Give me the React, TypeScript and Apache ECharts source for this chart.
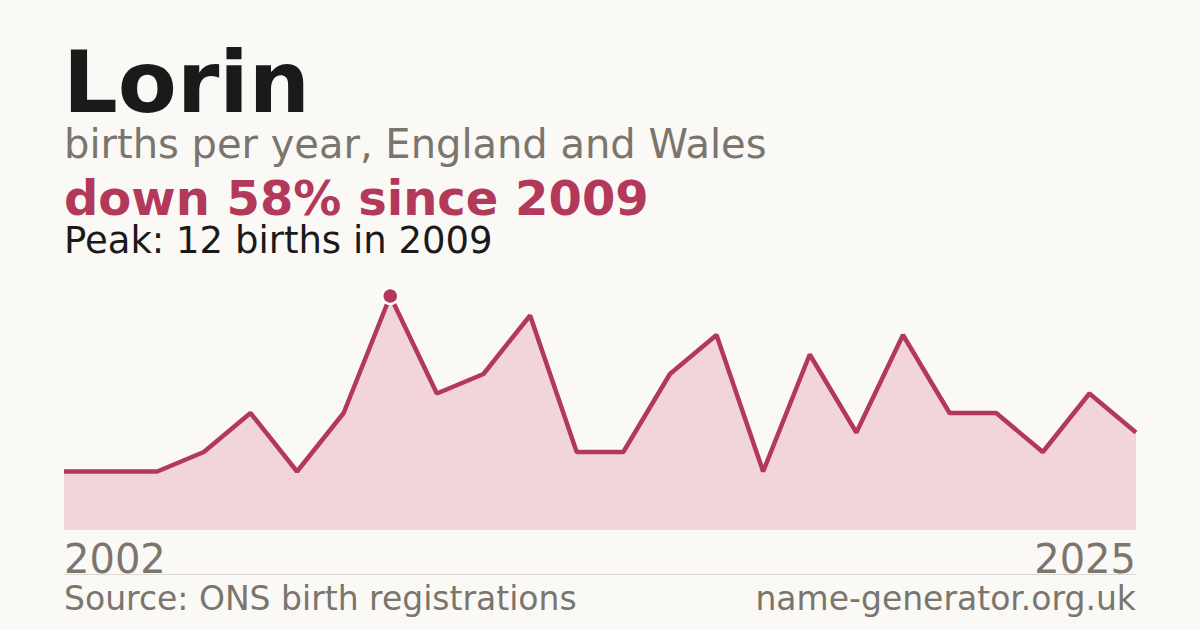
import React, { useEffect, useRef } from 'react';
import * as echarts from 'echarts';

const years = [
  '2002', '2003', '2004', '2005', '2006', '2007', '2008', '2009',
  '2010', '2011', '2012', '2013', '2014', '2015', '2016', '2017',
  '2018', '2019', '2020', '2021', '2022', '2023', '2024', '2025',
];
const births = [3, 3, 3, 4, 6, 3, 6, 12, 7, 8, 11, 4, 4, 8, 10, 3, 9, 5, 10, 6, 6, 4, 7, 5];
const peakYear = '2009';
const peakValue = 12;

const FONT = '"DejaVu Sans", sans-serif';
const CRIMSON = '#b3395a';
const GREY = '#7a756d';

const App: React.FC = () => {
  const chartRef = useRef<HTMLDivElement>(null);

  useEffect(() => {
    if (!chartRef.current) return;
    const chart = echarts.init(chartRef.current, null, { renderer: 'svg' });

    const option = {
      animation: false,
      backgroundColor: '#faf9f5',
      textStyle: { fontFamily: FONT },
      grid: { left: 64, right: 64, top: 296, bottom: 100 },
      xAxis: {
        type: 'category',
        data: years,
        boundaryGap: false,
        axisLine: { show: false },
        axisTick: { show: false },
        splitLine: { show: false },
        axisLabel: {
          interval: (i: number) => i === 0 || i === years.length - 1,
          alignMinLabel: 'left',
          alignMaxLabel: 'right',
          color: GREY,
          fontSize: 40,
          fontFamily: FONT,
          verticalAlign: 'middle',
          lineHeight: 36,
          margin: 29,
        },
      },
      yAxis: { type: 'value', min: 0, max: 12, show: false },
      series: [
        {
          type: 'line',
          data: births,
          showSymbol: false,
          lineStyle: { color: CRIMSON, width: 4.5 },
          areaStyle: { color: '#f1d5da', opacity: 1 },
          z: 2,
        },
        {
          type: 'scatter',
          data: [[peakYear, peakValue]],
          symbol: 'circle',
          symbolSize: 16,
          itemStyle: { color: CRIMSON, opacity: 1, borderColor: '#ffffff', borderWidth: 2.5 },
          z: 3,
        },
      ],
      graphic: [
        {
          type: 'text', silent: true,
          style: { text: 'Lorin', x: 63, y: 82, fontSize: 86, lineHeight: 76, fontWeight: 'bold', fontFamily: FONT, fill: '#1a1a1a', verticalAlign: 'middle' },
        },
        {
          type: 'text', silent: true,
          style: { text: 'births per year, England and Wales', x: 64, y: 144, fontSize: 40, lineHeight: 36, fontFamily: FONT, fill: GREY, verticalAlign: 'middle' },
        },
        {
          type: 'text', silent: true,
          style: { text: 'down 58% since 2009', x: 64, y: 197.5, fontSize: 48, lineHeight: 42, fontWeight: 'bold', fontFamily: FONT, fill: CRIMSON, verticalAlign: 'middle' },
        },
        {
          type: 'text', silent: true,
          style: { text: 'Peak: 12 births in 2009', x: 64, y: 240.5, fontSize: 37, lineHeight: 33, fontFamily: FONT, fill: '#1a1a1a', verticalAlign: 'middle' },
        },
        {
          type: 'line', silent: true,
          shape: { x1: 64, y1: 574.5, x2: 1136, y2: 574.5 },
          style: { stroke: '#dcd9d2', lineWidth: 1 },
        },
        {
          type: 'text', silent: true,
          style: { text: 'Source: ONS birth registrations', x: 64, y: 598.5, fontSize: 33, lineHeight: 30, fontFamily: FONT, fill: GREY, verticalAlign: 'middle' },
        },
        {
          type: 'text', silent: true,
          style: { text: 'name-generator.org.uk', x: 1136, y: 598.5, fontSize: 33, lineHeight: 30, fontFamily: FONT, fill: GREY, align: 'right', verticalAlign: 'middle' },
        },
      ],
    };

    chart.setOption(option);
    return () => {
      chart.dispose();
    };
  }, []);

  return (
    <div
      ref={chartRef}
      style={{ position: 'absolute', left: 0, top: 0, width: 1200, height: 630 }}
    />
  );
};

export default App;
